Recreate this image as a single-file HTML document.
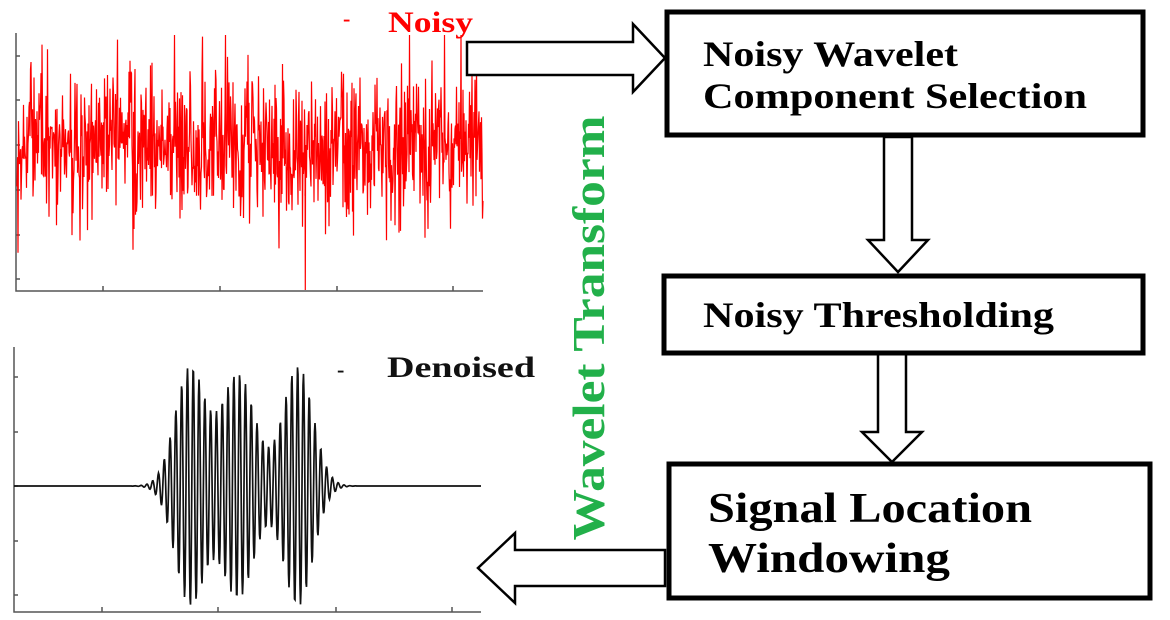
<!DOCTYPE html>
<html><head><meta charset="utf-8"><style>
html,body{margin:0;padding:0;background:#fff;}
svg{display:block}
.b{font-family:"Liberation Serif",serif;font-weight:bold;}
</style></head><body>
<svg id="s" width="1170" height="620" viewBox="0 0 1170 620" xmlns="http://www.w3.org/2000/svg">
<g stroke="#555" stroke-width="1.5" fill="none">
<path d="M16 33 V291 H483"/>
<path d="M103 291v-5M220 291v-5M337 291v-5M453 291v-5"/>
<path d="M16 56h4M16 100h4M16 145h4M16 190h4M16 235h4M16 279h4"/>
<path d="M14 347 V612 H481"/>
<path d="M102 612v-5M218 612v-5M336 612v-5M452 612v-5"/>
<path d="M14 377h4M14 432h4M14 486h4M14 541h4M14 595h4"/>
</g>
<polyline id="noisy" fill="none" stroke="#ff0000" stroke-width="1.2"/>
<polyline id="den" fill="none" stroke="#111" stroke-width="1.7"/>
<text x="343" y="26" class="b" fill="#f00" font-size="22">-</text>
<text x="388" y="32" class="b" fill="#f00" font-size="30" textLength="85" lengthAdjust="spacingAndGlyphs">Noisy</text>
<text x="337" y="377" class="b" fill="#111" font-size="22">-</text>
<text x="387" y="377" class="b" fill="#111" font-size="30" textLength="148" lengthAdjust="spacingAndGlyphs">Denoised</text>
<g fill="#fff" stroke="#000" stroke-width="2.5" stroke-linejoin="miter">
<polygon points="467,42 633,42 633,24 665,58 633,92 633,75 467,75"/>
<polygon points="884,137 912,137 912,240 928,240 898,272 868,240 884,240"/>
<polygon points="878,354 906,354 906,432 922,432 892,462 862,432 878,432"/>
<polygon points="665,550 515,550 515,533 478,568 515,603 515,586 665,586"/>
</g>
<g fill="#fff" stroke="#000" stroke-width="5">
<rect x="667" y="12" width="476" height="123"/>
<rect x="664" y="276" width="479" height="77"/>
<rect x="669" y="464" width="481" height="134"/>
</g>
<g class="b" fill="#000">
<text x="703" y="66" font-size="36" textLength="255" lengthAdjust="spacingAndGlyphs">Noisy Wavelet</text>
<text x="703" y="108" font-size="36" textLength="384" lengthAdjust="spacingAndGlyphs">Component Selection</text>
<text x="703" y="327" font-size="36" textLength="351" lengthAdjust="spacingAndGlyphs">Noisy Thresholding</text>
<text x="708" y="522" font-size="42" textLength="324" lengthAdjust="spacingAndGlyphs">Signal Location</text>
<text x="708" y="572" font-size="42" textLength="242" lengthAdjust="spacingAndGlyphs">Windowing</text>
</g>
<text class="b" fill="#22b04a" font-size="46" transform="translate(604,328) rotate(-90)" text-anchor="middle" textLength="425" lengthAdjust="spacingAndGlyphs">Wavelet Transform</text>
</svg>
<script>
var seed=12345;function r(){seed=(seed*16807)%2147483647;return seed/2147483647;}
function g(){var u=r()||1e-9,v=r();return Math.sqrt(-2*Math.log(u))*Math.cos(6.2832*v);}
var p=[];for(var x=17;x<=483;x+=0.5){var y=145+g()*38;if(y<35)y=35;if(y>270)y=270;p.push(x.toFixed(1)+","+y.toFixed(1));}
p.splice(Math.round((305-17)/0.5),0,"305,145","305.3,290","305.6,145");
document.getElementById("noisy").setAttribute("points",p.join(" "));
var q=[];for(var x=14;x<=481;x+=0.5){var e=0;var c=[[190,15,118],[238,17,112],[298,15,120]];
for(var i=0;i<3;i++){var d=(x-c[i][0])/c[i][1];e+=c[i][2]*Math.exp(-d*d/2);}
if(e>125)e=125;
var y=486-e*Math.sin((x-157)*2*Math.PI/5.8);q.push(x+","+y.toFixed(1));}
document.getElementById("den").setAttribute("points",q.join(" "));
</script>
</body></html>
